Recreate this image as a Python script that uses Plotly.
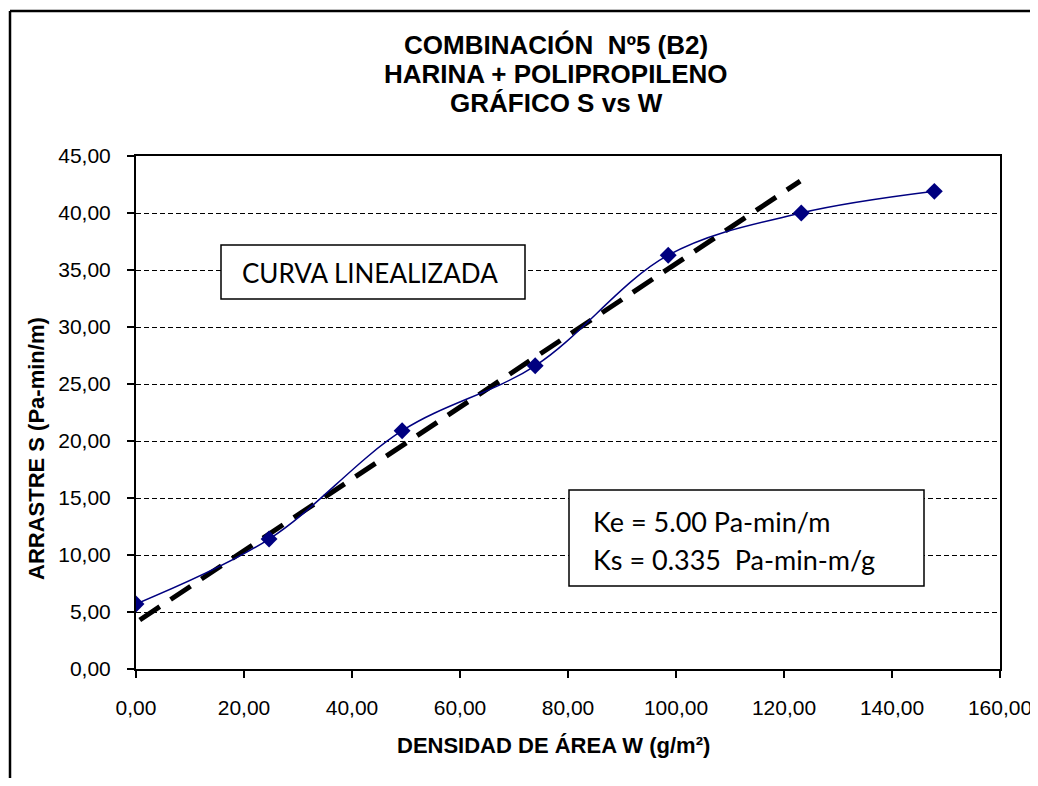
import plotly.graph_objects as go

# ---- data ----
w_values = [0.0, 24.64, 49.28, 73.92, 98.56, 123.2, 147.84]
s_values = [5.7, 11.4, 20.9, 26.6, 36.3, 40.0, 41.9]

trend_x = [0.7, 123.0]
trend_y = [4.3, 42.8]

x_tick_vals = [0, 20, 40, 60, 80, 100, 120, 140, 160]
x_tick_text = ["0,00", "20,00", "40,00", "60,00", "80,00", "100,00", "120,00", "140,00", "160,00"]
y_tick_vals = [0, 5, 10, 15, 20, 25, 30, 35, 40, 45]
y_tick_text = ["0,00", "5,00", "10,00", "15,00", "20,00", "25,00", "30,00", "35,00", "40,00", "45,00"]

title_lines = ["COMBINACIÓN  Nº5 (B2)", "HARINA + POLIPROPILENO", "GRÁFICO S vs W"]
x_title = "DENSIDAD DE ÁREA W (g/m²)"
y_title = "ARRASTRE S (Pa-min/m)"
box1_text = "CURVA LINEALIZADA"
box2_lines = ["Ke = 5.00 Pa-min/m", "Ks = 0.335  Pa-min-m/g"]

# ---- layout geometry (page pixels; page body has an 8px margin) ----
O = 8
W, H = 1038 - O, 786 - 2 * O
L, R, T, B = 136 - O, 1000 - O, 156 - O, 669 - O
pw, ph = R - L, B - T


def px(x):
    return (x - O - L) / pw


def py(y):
    return (B - (y - O)) / ph


fig = go.Figure()

fig.add_trace(go.Scatter(
    x=trend_x, y=trend_y, mode="lines",
    line=dict(color="black", width=5, dash="24px,13px"),
    showlegend=False, hoverinfo="skip"))

fig.add_trace(go.Scatter(
    x=w_values, y=s_values, mode="lines+markers",
    line=dict(color="#000080", width=1.5, shape="spline", smoothing=1.0),
    marker=dict(symbol="diamond", size=13, color="#000080"),
    showlegend=False))

tick_font = dict(family="Liberation Sans, Arial", size=21, color="black")
title_font = dict(family="Liberation Sans, Arial", size=22, color="black")

fig.update_xaxes(
    range=[0, 160], tickvals=x_tick_vals, ticktext=x_tick_text,
    showline=True, linecolor="black", linewidth=2, mirror=True,
    ticks="outside", ticklen=7, tickwidth=2, tickcolor="black",
    showgrid=False, zeroline=False, tickfont=tick_font,
    ticklabelstandoff=12)
fig.update_yaxes(
    range=[0, 45], tickvals=y_tick_vals, ticktext=y_tick_text,
    showline=True, linecolor="black", linewidth=2, mirror=True,
    ticks="outside", ticklen=7, tickwidth=2, tickcolor="black",
    showgrid=True, gridcolor="black", gridwidth=1.2, griddash="5px,3px",
    zeroline=False, tickfont=tick_font, ticklabelstandoff=12)

annotations = []
for t, yy in zip(title_lines, [45, 74, 103]):
    annotations.append(dict(
        text="<b>%s</b>" % t, x=px(556), y=py(yy), xref="paper", yref="paper",
        xanchor="center", yanchor="middle", showarrow=False,
        font=dict(family="Liberation Sans, Arial", size=26, color="black")))

annotations.append(dict(
    text="<b>%s</b>" % x_title, x=px(553), y=py(745), xref="paper", yref="paper",
    xanchor="center", yanchor="middle", showarrow=False, font=title_font))
annotations.append(dict(
    text="<b>%s</b>" % y_title, x=px(36), y=py(449), xref="paper", yref="paper",
    xanchor="center", yanchor="middle", showarrow=False, textangle=-90,
    font=title_font))

box_font = dict(family="Lato, Noto Sans", size=26, color="black")
annotations.append(dict(
    text=box1_text, x=px(240), y=py(273), xref="paper", yref="paper",
    xanchor="left", yanchor="middle", showarrow=False, font=box_font))
for t, yy in zip(box2_lines, [521, 559]):
    annotations.append(dict(
        text=t, x=px(591), y=py(yy), xref="paper", yref="paper",
        xanchor="left", yanchor="middle", showarrow=False,
        font=dict(family="Lato, Noto Sans", size=27, color="black")))

shapes = [
    dict(type="rect", xref="paper", yref="paper",
         x0=px(221), x1=px(525), y0=py(299), y1=py(245),
         line=dict(color="black", width=1.5), fillcolor="white", layer="above"),
    dict(type="rect", xref="paper", yref="paper",
         x0=px(569), x1=px(924), y0=py(586), y1=py(490),
         line=dict(color="black", width=1.5), fillcolor="white", layer="above"),
    # outer chart-area frame (left and top edges visible)
    dict(type="line", xref="paper", yref="paper",
         x0=px(10), x1=px(10), y0=py(800), y1=py(11),
         line=dict(color="black", width=2.5), layer="below"),
    dict(type="line", xref="paper", yref="paper",
         x0=px(10), x1=px(1060), y0=py(11), y1=py(11),
         line=dict(color="black", width=2.5), layer="below"),
]

fig.update_layout(
    width=W, height=H, autosize=False,
    margin=dict(l=L, r=W - R, t=T, b=H - B, autoexpand=False),
    paper_bgcolor="white", plot_bgcolor="white",
    annotations=annotations, shapes=shapes, showlegend=False)

fig.write_html("out.html")
